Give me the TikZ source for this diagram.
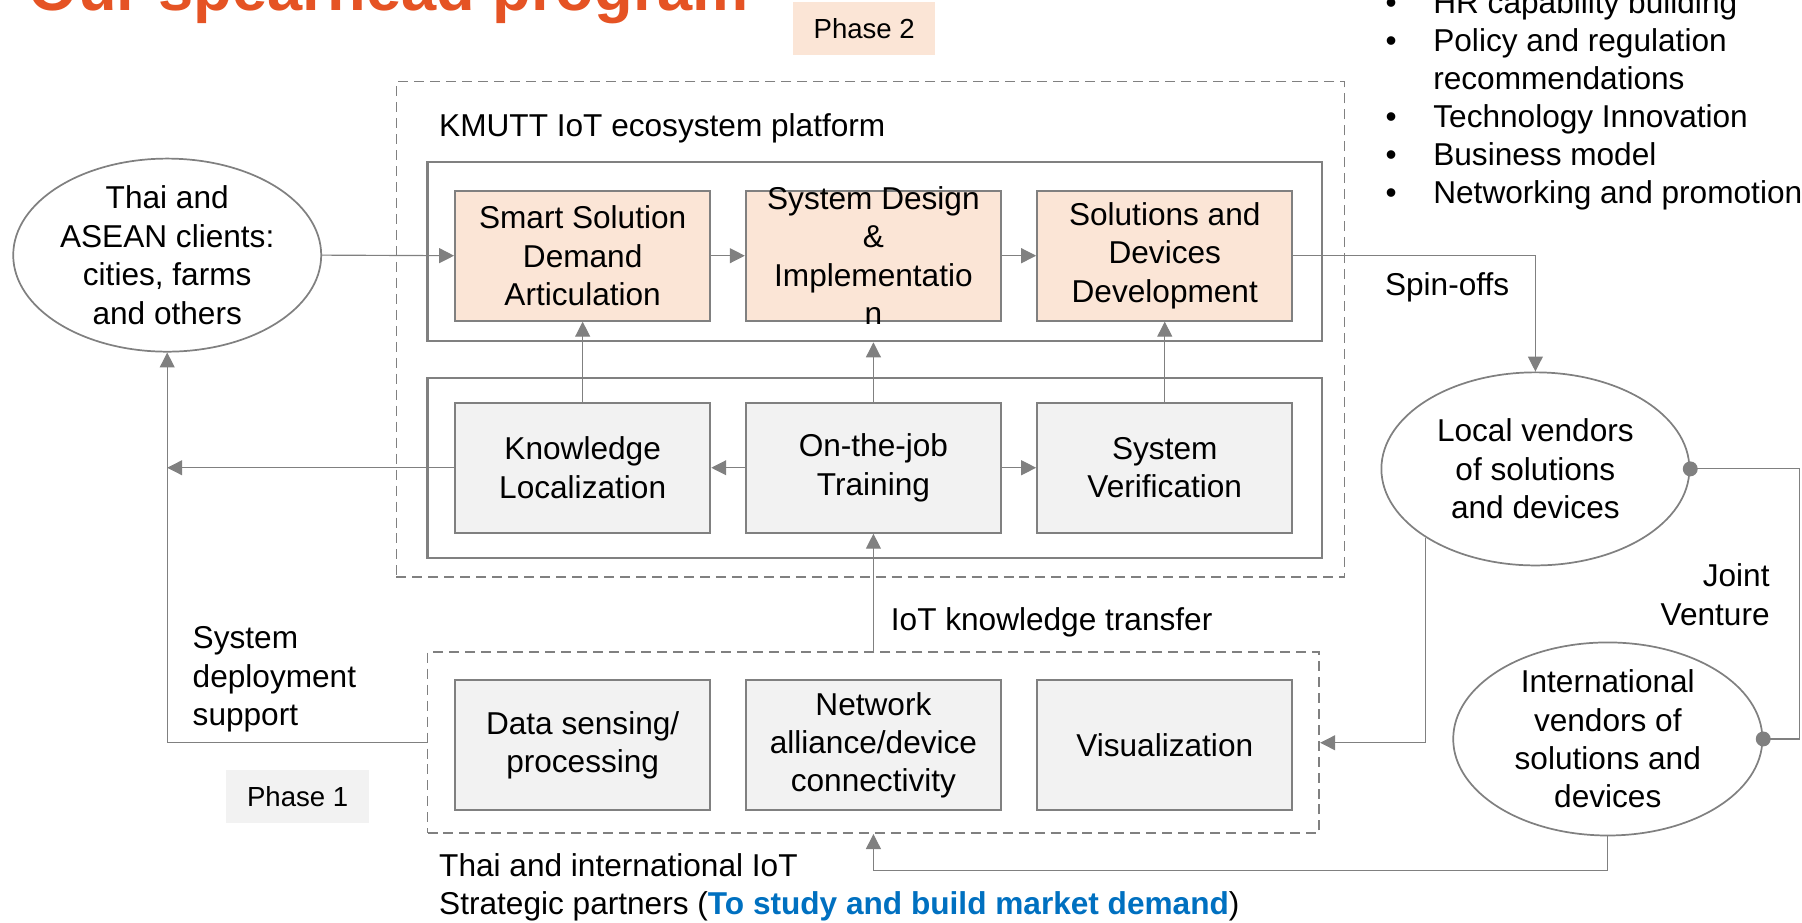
\documentclass[tikz,border=0pt]{standalone}
\usepackage{fontspec}
\setmainfont{Liberation Sans}
\usetikzlibrary{arrows.meta,shapes.geometric}
\definecolor{linegray}{RGB}{128,128,128}
\definecolor{peach}{RGB}{251,229,214}
\definecolor{boxgray}{RGB}{242,242,242}
\definecolor{titleorange}{RGB}{229,83,36}
\definecolor{linkblue}{RGB}{0,112,192}
\newcommand{\bodyfont}{\fontsize{27.5}{33.4}\selectfont}
\newcommand{\phasefont}{\fontsize{24}{29}\selectfont}
\newcommand{\titlefont}{\fontsize{55}{60}\selectfont\bfseries}

\begin{document}
\begin{tikzpicture}[x=1pt, y=-1pt,
    txt/.style={font=\bodyfont, inner sep=0pt},
    peachbox/.style={txt, draw=linegray, line width=1.8pt, fill=peach, align=center,
        minimum width=222pt, minimum height=113pt},
    graybox/.style={peachbox, fill=boxgray},
    frame/.style={draw=linegray, line width=1.8pt, minimum width=778pt, minimum height=156pt},
    dashframe/.style={draw=linegray, line width=1.5pt, dash pattern=on 8.7pt off 5.2pt},
    client/.style={txt, ellipse, draw=linegray, line width=1.5pt, align=center,
        inner ysep=-14pt, minimum width=268pt, minimum height=168pt},
    link/.style={draw=linegray, line width=1pt},
    arr/.style={link, -{Triangle[length=13pt, width=13pt]}},
    phase/.style={font=\phasefont, inner sep=0pt, minimum width=124pt, minimum height=46pt}]
    \useasboundingbox (0,0) rectangle (1568,803);
    \clip (0,0) rectangle (1568,803);

    % title and phase tags
    \node[font=\titlefont, text=titleorange, inner sep=0pt, anchor=base west] (title) at (25,9.3) {Our spearhead program};
    \node[phase, fill=peach] (phase2) at (752,24.5) {Phase 2};
    \node[phase, fill=boxgray] (phase1) at (259,693) {Phase 1};

    % outcomes
    \foreach \y/\t [count=\i] in {11.6/HR capability building, 45/Policy and regulation,
        111.1/Technology Innovation, 144.2/Business model, 177.3/Networking and promotion} {
        \node[txt, anchor=base] (dot\i) at (1210.5,\y) {•};
        \node[txt, anchor=base west] (item\i) at (1247,\y) {\t};
    }
    \node[txt, anchor=base west] (item2b) at (1247,77.7) {recommendations};

    % frames
    \node[dashframe, minimum width=825pt, minimum height=431pt] (ph2) at (757.5,286.5) {};
    \node[frame] (upper) at (761,219) {};
    \node[frame, minimum height=156.7pt] (lower) at (761,407) {};
    \node[dashframe, minimum width=776pt, minimum height=157.4pt] (ph1) at (760,646.3) {};
    \node[txt, anchor=base west] (kmutt) at (382,119) {KMUTT IoT ecosystem platform};

    % boxes
    \node[peachbox] (smart) at (507,222.5) {Smart Solution\\Demand\\Articulation};
    \node[peachbox, inner ysep=-10pt] (design) at (760,222.5) {System Design\\\&\\Implementatio\\n};
    \node[peachbox] (devel) at (1013.5,222.5) {Solutions and\\Devices\\Development};
    \node[graybox] (know) at (507,407) {Knowledge\\Localization};
    \node[graybox] (otj) at (760,407) {On-the-job\\Training};
    \node[graybox] (verif) at (1013.5,407) {System\\Verification};
    \node[graybox] (sensing) at (507,648.5) {Data sensing/\\processing};
    \node[graybox] (network) at (760,648.5) {Network\\alliance/device\\connectivity};
    \node[graybox] (visual) at (1013.5,648.5) {Visualization};

    % actors
    \node[client] (clients) at (145.5,222) {Thai and\\ASEAN clients:\\cities, farms\\and others};
    \node[client] (localv) at (1336,408) {Local vendors\\of solutions\\and devices};
    \node[client, minimum width=269pt] (intlv) at (1399,643) {International\\vendors of\\solutions and\\devices};

    % connectors
    \draw[arr] (clients.east) -- (smart.west);
    \draw[arr] (smart.east) -- (design.west);
    \draw[arr] (design.east) -- (devel.west);
    \draw[arr] (know.north) -- (smart.south);
    \draw[arr] (otj.north) -- (otj.north |- upper.south);
    \draw[arr] (verif.north) -- (devel.south);
    \draw[arr] (otj.west) -- (know.east);
    \draw[arr] (otj.east) -- (verif.west);
    \draw[arr] (know.west) -- (know.west -| clients.south);
    \draw[arr] (ph1.west) -| (clients.south);
    \draw[arr] (ph1.north) -- (otj.south);
    \draw[arr] (devel.east) -| (localv.north);
    \draw[arr] (localv.212) |- (ph1.east);
    \draw[arr] (intlv.south) -- ++(0,29.5) -| (ph1.south);
    \draw[link] (localv.east) -- ++(95,0) |- (intlv.east);
    \fill[linegray] (localv.east) circle (6.5pt);
    \fill[linegray] (intlv.east) circle (6.5pt);

    % labels (base = last line)
    \node[txt, anchor=base west] (spin) at (1205,256.7) {Spin-offs};
    \node[txt, anchor=base east, align=right] (joint) at (1540,544) {Joint\\Venture};
    \node[txt, anchor=base west, align=left] (deploy) at (167.5,631.5) {System\\deployment\\support};
    \node[txt, anchor=base west] (transfer) at (775,548.8) {IoT knowledge transfer};
    \node[txt, anchor=base west, align=left] (partners) at (382,796)
        {Thai and international IoT\\Strategic partners (\textcolor{linkblue}{\textbf{To study and build market demand}})};
\end{tikzpicture}
\end{document}
